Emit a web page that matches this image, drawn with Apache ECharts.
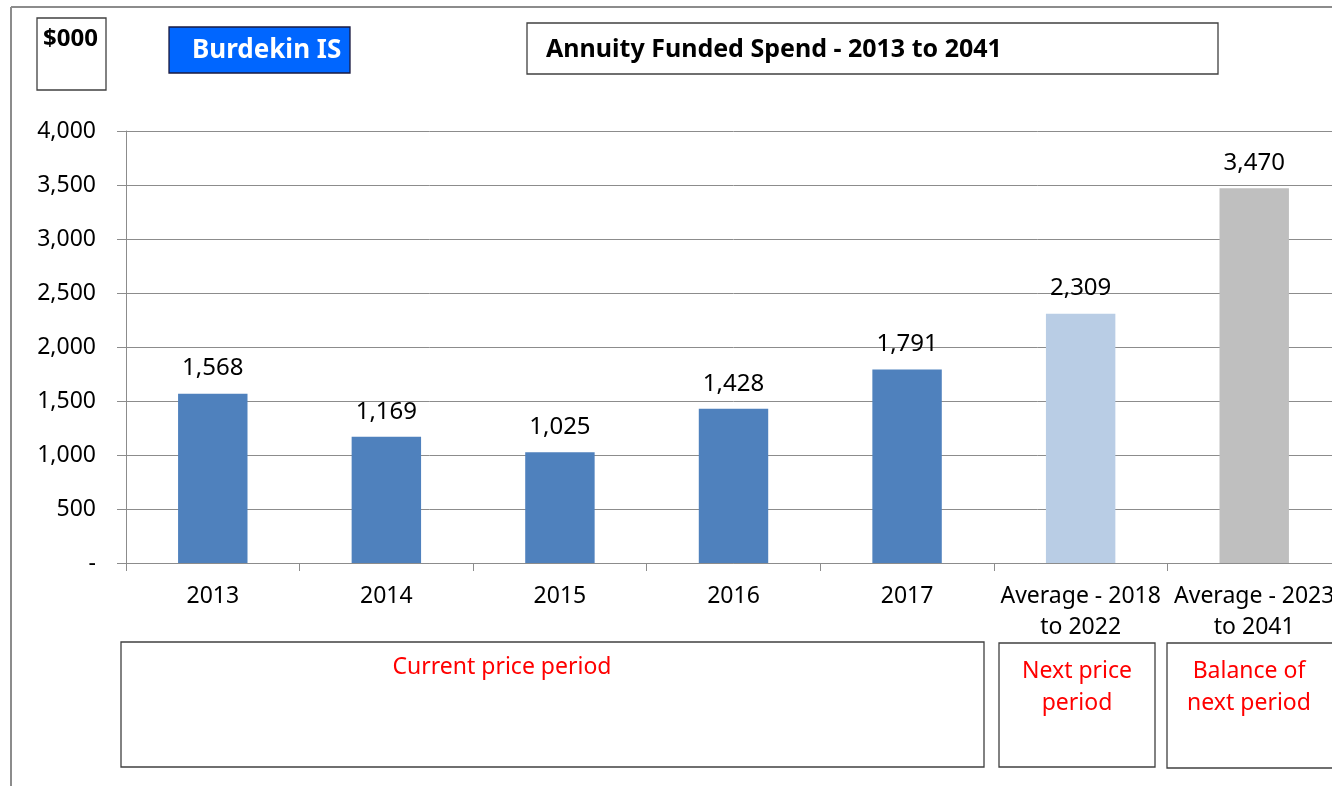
<!DOCTYPE html>
<html><head><meta charset="utf-8">
<script src="https://cdn.jsdelivr.net/npm/echarts@6/dist/echarts.min.js"></script>
<style>html,body{margin:0;padding:0;background:#fff;overflow:hidden}#c{width:1341px;height:786px}</style>
</head><body><div id="c"></div>
<script>
const categories = ['2013','2014','2015','2016','2017','Average - 2018\nto 2022','Average - 2023\nto 2041'];
const values = [1568, 1169, 1025, 1428, 1791, 2309, 3470];
const barColors = ['#4F81BD','#4F81BD','#4F81BD','#4F81BD','#4F81BD','#B9CDE5','#BFBFBF'];
const yTicks = [0, 500, 1000, 1500, 2000, 2500, 3000, 3500, 4000];
const unitLabel = '$000';
const siteLabel = 'Burdekin IS';
const chartTitle = 'Annuity Funded Spend - 2013 to 2041';
const periodLabels = ['Current price period', 'Next price\nperiod', 'Balance of\nnext period'];

const FONT = 'Noto Sans';
const chart = echarts.init(document.getElementById('c'), null, {renderer:'canvas'});
const fmt = v => v === 0 ? '-' : v.toLocaleString('en-US');

function box(x, y, w, h, opts) {
  return {type:'rect', shape:{x, y, width:w, height:h},
    style:{fill:(opts&&opts.fill)||'#fff', stroke:(opts&&opts.stroke)||'#404040', lineWidth:(opts&&opts.lw)||1.3}, z:10};
}
function txt(x, y, t, opts) {
  return {type:'text', x, y, z:11, style:Object.assign({text:t, fontFamily:FONT, fontSize:23, fill:'#000', verticalAlign:'middle'}, opts||{})};
}

chart.setOption({
  animation:false,
  grid:{left:126, right:0, top:131, bottom:223, containLabel:false},
  xAxis:{type:'category', data:categories,
    axisLine:{lineStyle:{color:'#8c8c8c', width:1}},
    axisTick:{show:true, length:8, lineStyle:{color:'#8c8c8c'}, interval:0},
    axisLabel:{interval:0, color:'#000', fontFamily:FONT, fontSize:23, lineHeight:31, margin:18}},
  yAxis:{type:'value', min:yTicks[0], max:yTicks[yTicks.length-1], interval:500,
    axisLine:{show:true, lineStyle:{color:'#8c8c8c'}},
    axisTick:{show:true, length:9, lineStyle:{color:'#8c8c8c'}},
    splitLine:{lineStyle:{color:'#8c8c8c', width:1}},
    axisLabel:{formatter:fmt, color:'#000', fontFamily:FONT, fontSize:23, margin:30}},
  series:[{type:'bar', barWidth:'40%',
    data: values.map((v,i)=>({value:v, itemStyle:{color:barColors[i]}})),
    label:{show:true, position:'top', distance:13, formatter:p=>fmt(p.value), color:'#000', fontFamily:FONT, fontSize:24}}],
  graphic:[
    {type:'line', shape:{x1:11, y1:7, x2:1341, y2:7}, style:{stroke:'#8c8c8c', lineWidth:2}, z:5},
    {type:'line', shape:{x1:11, y1:7, x2:11, y2:786}, style:{stroke:'#8c8c8c', lineWidth:2}, z:5},
    box(37, 18, 69, 72),
    txt(43, 39, unitLabel, {fontWeight:'bold', fontSize:24}),
    box(169, 27, 181, 46, {fill:'#0066FF', stroke:'#1a1a40'}),
    txt(192, 51, siteLabel, {fill:'#fff', fontSize:26, fontWeight:'bold'}),
    box(527, 23, 691, 51),
    txt(546, 50, chartTitle, {fontWeight:'bold', fontSize:25}),
    box(121, 642, 863, 125),
    txt(502, 667, periodLabels[0], {fill:'#ff0000', align:'center'}),
    box(999, 643, 156, 124),
    txt(1077, 687, periodLabels[1], {fill:'#ff0000', align:'center', lineHeight:32}),
    box(1167, 643, 180, 125),
    txt(1249, 687, periodLabels[2], {fill:'#ff0000', align:'center', lineHeight:32})
  ]
});
</script></body></html>
